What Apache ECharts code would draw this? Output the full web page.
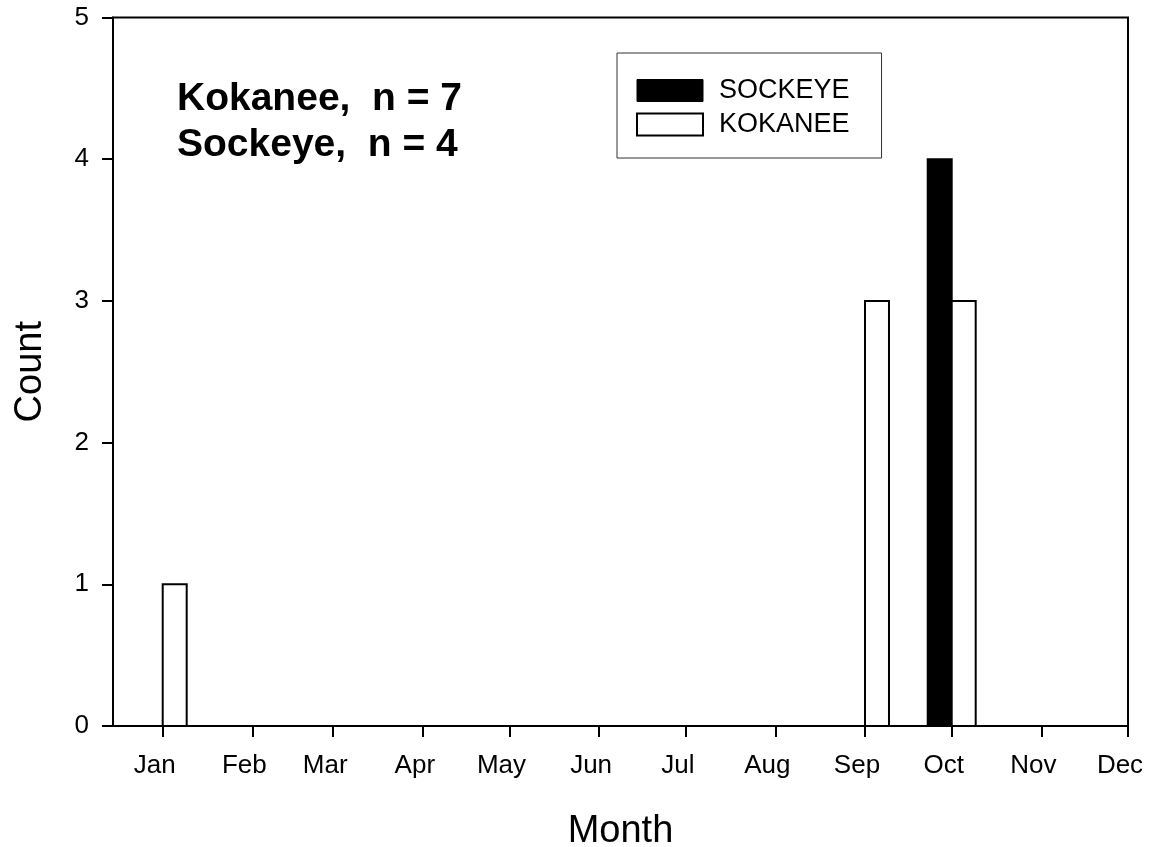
<!DOCTYPE html>
<html><head><meta charset="utf-8">
<script src="https://cdn.jsdelivr.net/npm/echarts@6/dist/echarts.min.js"></script>
<style>html,body{margin:0;padding:0;background:#fff}#c{width:1154px;height:847px}</style>
</head><body><div id="c"></div>
<script>
const months = ['Jan','Feb','Mar','Apr','May','Jun','Jul','Aug','Sep','Oct','Nov','Dec'];
const monthStartDay = [0,31,59,90,120,151,181,212,243,273,304,334];
const sockeye = [0,0,0,0,0,0,0,0,0,4,0,0];
const kokanee = [1,0,0,0,0,0,0,0,3,3,0,0];
const yTicks = [0,1,2,3,4,5];
const barDays = 8.3;

const FONT = 'Liberation Sans, Arial, Helvetica, sans-serif';
const sum = a => a.reduce((s,v)=>s+v,0);

function makeRender(side, fill){
  return function(params, api){
    const d = api.value(0), v = api.value(1);
    if(!v) return null;
    const d0 = side < 0 ? d - barDays : d;
    const p0 = api.coord([d0, v]);
    const p1 = api.coord([d0 + barDays, 0]);
    return {type:'rect', shape:{x:p0[0], y:p0[1], width:p1[0]-p0[0], height:p1[1]-p0[1]},
      style:{fill:fill, stroke:'#000', lineWidth:2}};
  };
}

const chart = echarts.init(document.getElementById('c'), null, {renderer:'canvas'});
chart.setOption({
  animation:false,
  backgroundColor:'#fff',
  textStyle:{fontFamily:FONT},
  title:{
    text:'Kokanee,  n = ' + sum(kokanee) + '\nSockeye,  n = ' + sum(sockeye),
    left:177, top:76, padding:0,
    textStyle:{fontFamily:FONT, fontSize:39, fontWeight:'bold', color:'#000', lineHeight:46}
  },
  legend:{
    orient:'vertical', left:617, top:53,
    padding:[24,32,20,19], itemGap:7, itemWidth:66, itemHeight:22,
    borderColor:'#333', borderWidth:1, backgroundColor:'#fff',
    selectedMode:false,
    textStyle:{fontFamily:FONT, fontSize:27, color:'#000', lineHeight:22, padding:[0,0,0,11]},
    data:[
      {name:'SOCKEYE', icon:'rect', itemStyle:{color:'#000', borderColor:'#000', borderWidth:1}},
      {name:'KOKANEE', icon:'rect', itemStyle:{color:'#fff', borderColor:'#000', borderWidth:2}}
    ]
  },
  grid:{left:113, right:26, top:17.5, bottom:121, show:true, borderColor:'#000', borderWidth:2,
    backgroundColor:'transparent', containLabel:false, outerBoundsMode:'none'},
  xAxis:{
    type:'value', min:-17.2, max:334,
    name:'Month', nameLocation:'middle', nameGap:87,
    nameTextStyle:{fontFamily:FONT, fontSize:38, color:'#000'},
    axisLine:{show:true, onZero:false, lineStyle:{color:'#000', width:2}},
    axisTick:{show:true, customValues:monthStartDay, length:11, inside:false, lineStyle:{color:'#000', width:2}},
    axisLabel:{customValues:monthStartDay, fontFamily:FONT, fontSize:26, color:'#000', margin:27,
      padding:[0,16,0,0], hideOverlap:false, showMinLabel:true, showMaxLabel:true,
      formatter:function(v){ const i = monthStartDay.indexOf(Math.round(v)); return i>=0 ? months[i] : ''; }},
    splitLine:{show:false}
  },
  yAxis:{
    type:'value', min:yTicks[0], max:yTicks[yTicks.length-1], interval:1,
    name:'Count', nameLocation:'middle', nameGap:63, nameRotate:90,
    nameTextStyle:{fontFamily:FONT, fontSize:38, color:'#000'},
    axisLine:{show:true, onZero:false, lineStyle:{color:'#000', width:2}},
    axisTick:{show:true, length:11, inside:false, lineStyle:{color:'#000', width:2}},
    axisLabel:{fontFamily:FONT, fontSize:26, color:'#000', margin:24},
    splitLine:{show:false}
  },
  series:[
    {name:'SOCKEYE', type:'custom', renderItem:makeRender(-1,'#000'), itemStyle:{color:'#000'},
      data:monthStartDay.map((d,i)=>[d, sockeye[i]]), z:3},
    {name:'KOKANEE', type:'custom', renderItem:makeRender(1,'#fff'), itemStyle:{color:'#fff', borderColor:'#000'},
      data:monthStartDay.map((d,i)=>[d, kokanee[i]]), z:3}
  ]
});
</script></body></html>
